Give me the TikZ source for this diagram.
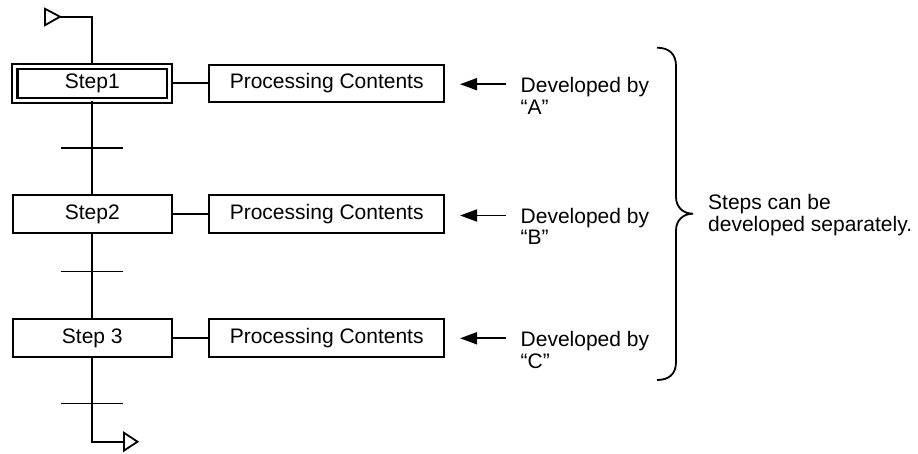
\documentclass[tikz,border=0pt]{standalone}
\usepackage{fontspec}
\setmainfont{Liberation Sans}
\usetikzlibrary{arrows.meta}
\begin{document}
\begin{tikzpicture}[x=1pt,y=-1pt,
  every node/.style={font=\fontsize{21}{21.7}\selectfont},
  stepbox/.style={draw, line width=2pt, minimum width=158.6pt, minimum height=37.7pt, inner sep=0pt},
  procbox/.style={draw, line width=2pt, minimum width=234.7pt, minimum height=37.7pt, inner sep=0pt},
  initstep/.style={draw, line width=2.2pt, double, double distance=3pt, minimum width=154.8pt, minimum height=33.8pt, inner sep=0pt},
  flow/.style={line width=1.8pt},
  bar/.style={line width=1.6pt},
  link/.style={line width=1.8pt},
  devarrow/.style={line width=1.8pt, -{Triangle[length=17pt, width=12pt]}},
  marker/.style={line width=1.8pt, line join=miter},
  label/.style={anchor=base west, align=left, inner sep=0pt},
  bracestyle/.style={line width=1.8pt}
]
\useasboundingbox (0,0) rectangle (918,454);

% steps
\node[initstep] (s1) at (92.3,83.4) {Step1};
\node[stepbox]  (s2) at (92.3,214.2) {Step2};
\node[stepbox]  (s3) at (92.3,338) {Step 3};

% processing boxes
\node[procbox] (p1) at (326.7,83.4) {Processing Contents};
\node[procbox] (p2) at (326.7,214.2) {Processing Contents};
\node[procbox] (p3) at (326.7,338) {Processing Contents};

% links
\draw[link] (s1.east) -- (p1.west);
\draw[link] (s2.east) -- (p2.west);
\draw[link] (s3.east) -- (p3.west);

% entry
\coordinate (intip) at (60,16.7);
\draw[marker] (intip) -- (45,8.8) -- (45,25.2) -- cycle;
\draw[flow] (intip) -| (s1.north);

% transitions
\coordinate (t1) at (92.3,148.3);
\coordinate (t2) at (92.3,271.7);
\coordinate (t3) at (92.3,403.3);
\draw[flow] (s1.south) -- (s2.north);
\draw[flow] (s2.south) -- (s3.north);
\coordinate (corner) at (92.3,441.7);
\coordinate (outback) at (124,441.7);
\draw[flow] (s3.south) -- (corner) -- (outback);
\draw[marker] (outback) -- (124,432.8) -- (137.5,441.7) -- (124,450.6) -- cycle;
\foreach \t in {t1,t2,t3}
  \draw[bar] ([xshift=-31pt]\t) -- ([xshift=31pt]\t);

% developer labels (base anchor = last line)
\node[label] (d1) at (520.5,114.4) {Developed by\\“A”};
\node[label] (d2) at (520.5,244.9) {Developed by\\“B”};
\node[label] (d3) at (520.5,368.2) {Developed by\\“C”};
\draw[devarrow] ([xshift=61pt,yshift=-0.8pt]p1.east) -- ([xshift=15pt,yshift=-0.8pt]p1.east);
\draw[devarrow] ([xshift=61pt,yshift=-1.3pt]p2.east) -- ([xshift=15pt,yshift=-1.3pt]p2.east);
\draw[devarrow] ([xshift=61pt,yshift=-0.3pt]p3.east) -- ([xshift=15pt,yshift=-0.3pt]p3.east);

% brace
\draw[bracestyle] (657,47.7) .. controls (669,47.7) and (676,54) .. (676,66)
  -- (676,197) .. controls (676,207) and (683,213.7) .. (693,213.7)
  .. controls (683,213.7) and (676,220.4) .. (676,230.4)
  -- (676,362) .. controls (676,374) and (669,380) .. (657,380);
\node[label] (note) at (708,231.7) {Steps can be\\developed separately.};
\end{tikzpicture}
\end{document}
